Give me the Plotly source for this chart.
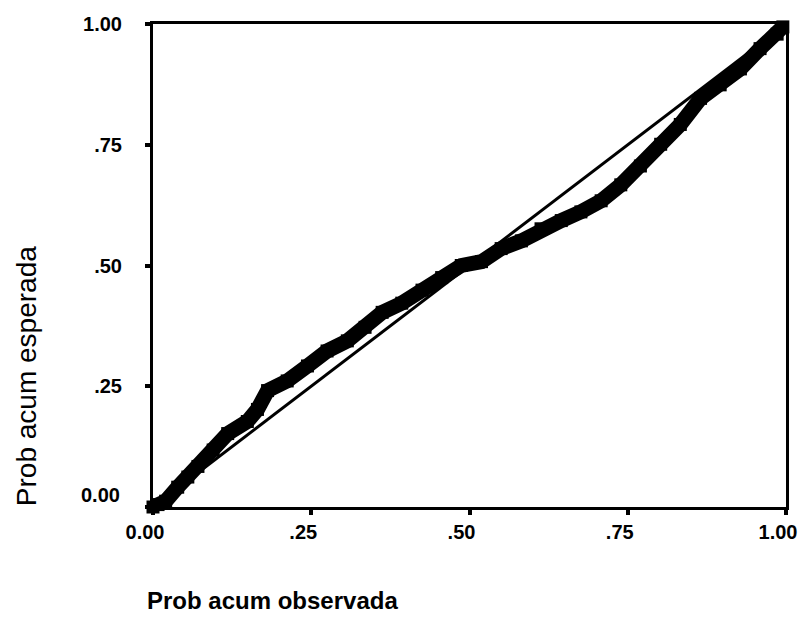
import plotly.graph_objects as go

# Observed cumulative probability (x) vs expected cumulative probability (y)
obs_prob = [0.000, 0.008, 0.020, 0.039, 0.055, 0.071, 0.095, 0.118, 0.149, 0.165, 0.181,
            0.212, 0.244, 0.275, 0.307, 0.335, 0.362, 0.393, 0.425, 0.456, 0.487,
            0.519, 0.550, 0.582, 0.613, 0.645, 0.676, 0.708, 0.739, 0.770, 0.802,
            0.833, 0.865, 0.896, 0.928, 0.959, 0.986, 0.995]
exp_prob = [0.000, 0.005, 0.012, 0.041, 0.062, 0.084, 0.118, 0.152, 0.177, 0.202, 0.241,
            0.261, 0.292, 0.323, 0.344, 0.372, 0.403, 0.422, 0.449, 0.475, 0.500,
            0.508, 0.535, 0.551, 0.576, 0.593, 0.611, 0.634, 0.667, 0.706, 0.751,
            0.792, 0.846, 0.874, 0.907, 0.949, 0.979, 0.994]

ref_x = [0, 1]
ref_y = [0, 1]

tick_vals = [0, 0.25, 0.5, 0.75, 1.0]
tick_text = ["0.00", ".25", ".50", ".75", "1.00"]

fig = go.Figure()
fig.add_trace(go.Scatter(x=ref_x, y=ref_y, mode="lines",
                         line=dict(color="black", width=3), showlegend=False))
fig.add_trace(go.Scatter(x=obs_prob, y=exp_prob, mode="lines+markers",
                         line=dict(color="black", width=15),
                         marker=dict(color="black", size=13, symbol="square"),
                         cliponaxis=False, showlegend=False))

tick_font = dict(family="Liberation Sans", size=20, color="black", weight="bold")
axis_common = dict(range=[0, 1], tickvals=tick_vals,
                   showgrid=False, zeroline=False, showline=True, mirror=True,
                   linecolor="black", linewidth=3, ticks="outside", ticklen=5,
                   tickwidth=4, tickcolor="black", automargin=False,
                   tickfont=tick_font)

fig.update_xaxes(**axis_common, ticktext=tick_text, ticklabelstandoff=0,
                 ticklabelshift=-8)
fig.update_yaxes(**axis_common, ticktext=[""] + tick_text[1:], ticklabelstandoff=19)

# y-axis "0.00" label sits slightly above its tick in the reference
fig.add_annotation(text=tick_text[0], xref="paper", yref="paper",
                   x=-0.049, y=0.025, xanchor="right", yanchor="middle",
                   showarrow=False, font=tick_font)

fig.add_annotation(text="Prob acum observada", xref="paper", yref="paper",
                   x=-0.0126, y=-0.1946, xanchor="left", yanchor="middle", showarrow=False,
                   font=dict(family="Liberation Sans", size=24, color="black", weight="bold"))
fig.add_annotation(text="Prob acum esperada", xref="paper", yref="paper",
                   x=-0.2006, y=0.271, xanchor="center", yanchor="middle", textangle=-90,
                   showarrow=False,
                   font=dict(family="Liberation Sans", size=28, color="black"))

fig.update_layout(width=799, height=607, plot_bgcolor="white", paper_bgcolor="white",
                  margin=dict(l=145, r=21, t=16, b=108))

fig.write_html("out.html")
